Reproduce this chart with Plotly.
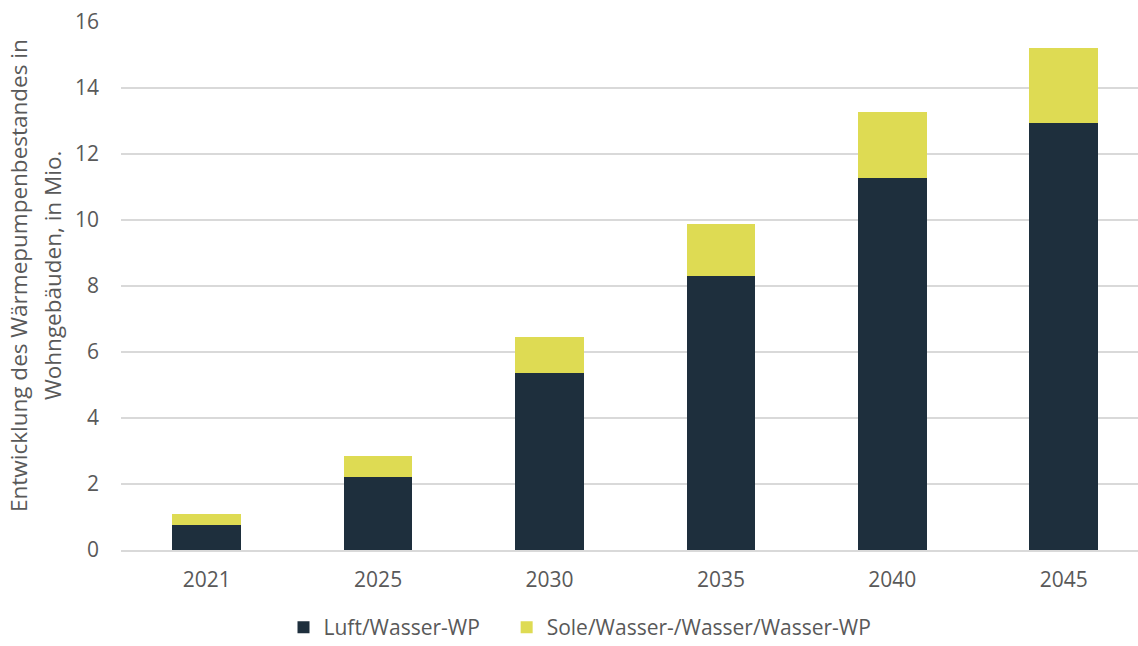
import plotly.graph_objects as go

years = ["2021", "2025", "2030", "2035", "2040", "2045"]
luft_wasser = [0.77, 2.21, 5.37, 8.30, 11.27, 12.93]
sole_wasser = [0.31, 0.64, 1.08, 1.58, 2.00, 2.28]
y_ticks = [0, 2, 4, 6, 8, 10, 12, 14, 16]
y_title_lines = ["Entwicklung des Wärmepumpenbestandes in", "Wohngebäuden, in Mio."]
series_names = ["Luft/Wasser-WP", "Sole/Wasser-/Wasser/Wasser-WP"]

font_family = "Open Sans, Lato, sans-serif"
text_color = "#595959"

# plot area in pixels: left 121, right 1138, top 22, bottom 550
PL, PR, PT, PB = 121, 1138, 22, 550


def px_x(p):
    return (p - PL) / (PR - PL)


def px_y(p):
    return (PB - p) / (PB - PT)


fig = go.Figure()
fig.add_trace(go.Bar(
    x=years, y=luft_wasser,
    # non-breaking spaces widen the gap between the two legend entries
    name=series_names[0] + "\u00a0" * 4,
    marker=dict(color="#1E2F3D", line=dict(width=0)), width=0.4,
))
fig.add_trace(go.Bar(
    x=years, y=sole_wasser, name=series_names[1],
    marker=dict(color="#DEDB53", line=dict(width=0)), width=0.4,
))

# two-line rotated axis title
for text, cx in zip(y_title_lines, [18, 52]):
    fig.add_annotation(
        text=text, textangle=-90, showarrow=False,
        xref="paper", yref="paper", x=px_x(cx), y=px_y(276),
        xanchor="center", yanchor="middle",
        font=dict(size=22.5, color=text_color, family=font_family),
    )

fig.update_layout(
    barmode="stack",
    width=1138, height=646,
    margin=dict(l=PL, r=1138 - PR, t=PT, b=646 - PB, autoexpand=False),
    plot_bgcolor="white", paper_bgcolor="white",
    font=dict(family=font_family, color=text_color, size=21),
    xaxis=dict(
        type="category", range=[-0.5, 5.433], automargin=False,
        showgrid=False, showline=True, linecolor="#D9D9D9", linewidth=2,
        ticks="", ticklabelstandoff=10,
        tickfont=dict(size=21, color=text_color),
    ),
    yaxis=dict(
        range=[0, 16], tickvals=y_ticks, automargin=False,
        showgrid=True, gridcolor="#D9D9D9", gridwidth=2,
        zeroline=False, ticks="", ticklabelstandoff=21,
        tickfont=dict(size=21, color=text_color),
    ),
    legend=dict(
        orientation="h", yanchor="top", y=-0.108,
        xanchor="center", x=px_x(580),
        font=dict(size=21, color=text_color), itemwidth=30,
        traceorder="normal", bgcolor="rgba(0,0,0,0)",
    ),
    bargap=0.6,
)

fig.write_html("out.html")
